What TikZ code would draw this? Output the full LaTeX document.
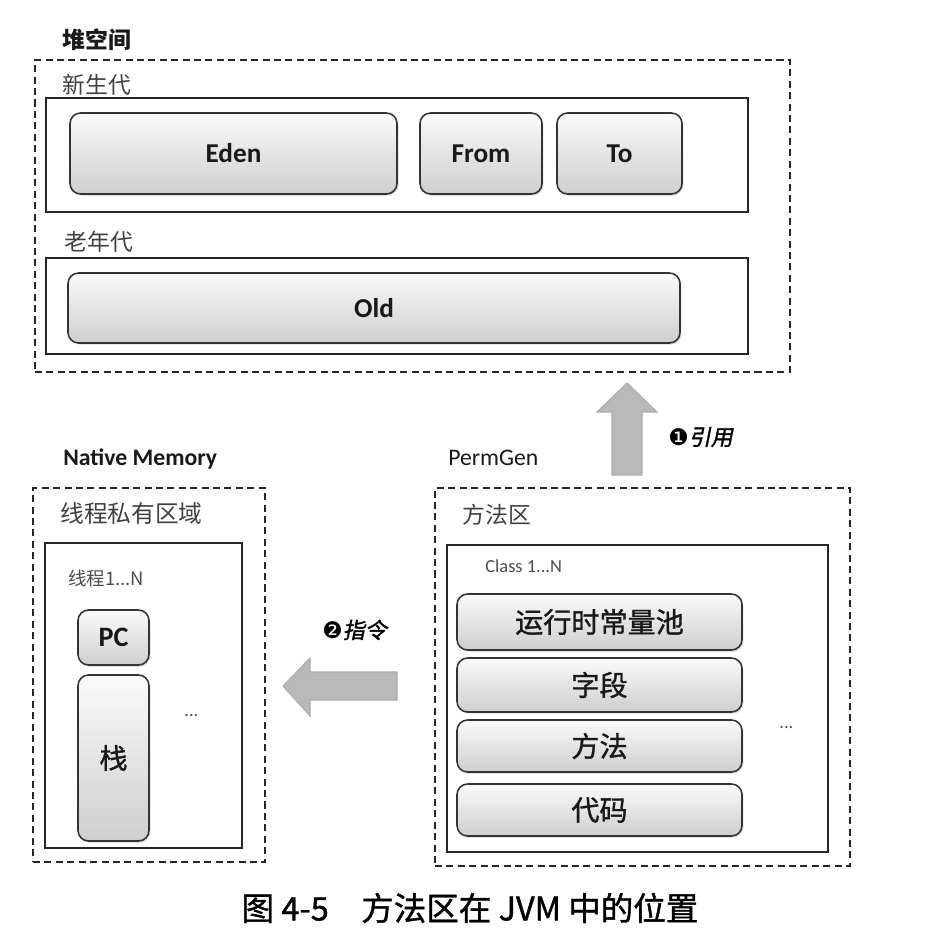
\documentclass[tikz,border=0pt]{standalone}
\usepackage{fontspec}
\setmainfont{Carlito}
\newfontfamily\cjk{Noto Sans CJK SC}
\newfontfamily\cjkmed[FakeBold=1.2]{Noto Sans CJK SC}
\newfontfamily\cjkit[FakeSlant=0.2,FakeBold=1.5]{Noto Sans CJK SC}
\newfontfamily\ding{DejaVu Sans}
\usetikzlibrary{shadows}

\begin{document}
\begin{tikzpicture}[x=0.02cm,y=-0.02cm,
	size/.style 2 args={minimum width=#1*0.02cm, minimum height=#2*0.02cm},
	zone/.style={draw=black!85, dash pattern=on 4pt off 2.5pt, line width=1pt, inner sep=0pt},
	part/.style={draw=black!85, line width=0.9pt, inner sep=0pt},
	cell/.style={draw=black!80, line width=0.9pt, rounded corners=6pt, top color=gray!4, bottom color=gray!38, drop shadow={opacity=0.3,shadow xshift=0.8pt,shadow yshift=-0.9pt}, inner sep=0pt, text=black!90, font=\bfseries\fontsize{15.5}{15.5}\selectfont},
	zhcell/.style={cell, font=\cjkmed\fontsize{16}{16}\selectfont},
	head/.style={anchor=west, inner sep=0pt, text=black!90, font=\fontsize{13.5}{13.5}\selectfont},
	zhhead/.style={anchor=west, inner sep=0pt, text=black!75, font=\cjk\fontsize{13}{13}\selectfont},
	small/.style={anchor=west, inner sep=0pt, text=black!70, font=\fontsize{10.5}{10.5}\selectfont},
	fat/.style={fill=gray!55, draw=gray!65, line width=0.6pt},
	note/.style={anchor=west, inner sep=0pt, font=\cjkit\fontsize{12.5}{12.5}\selectfont}]
	\useasboundingbox[fill=white] (0,0) rectangle (940,950);

	% heap
	\node[zhhead, font=\cjk\bfseries\fontsize{13}{13}\selectfont, text=black!90] (heapT) at (62,40) {堆空间};
	\node[zone, size={755}{312}] (heap) at (412.5,216) {};
	\node[zhhead] (youngT) at (62,85) {新生代};
	\node[part, size={702}{114}] (young) at (397,155) {};
	\node[cell, size={327}{81}] (eden) at (233.5,153.5) {Eden};
	\node[cell, size={122}{81}] (from) at (481,153.5) {From};
	\node[cell, size={125}{81}] (to) at (619.5,153.5) {To};
	\node[zhhead] (oldT) at (64,242) {老年代};
	\node[part, size={702}{96}] (oldbox) at (397,306) {};
	\node[cell, size={612}{70}] (old) at (374,308) {Old};

	% native memory
	\node[head, font=\bfseries\fontsize{13.5}{13.5}\selectfont] (nativeT) at (63,459) {Native Memory};
	\node[zone, size={232}{374}] (native) at (149,675) {};
	\node[zhhead, font=\cjk\fontsize{13.5}{13.5}\selectfont] (privT) at (60,513) {线程私有区域};
	\node[part, size={197}{305}] (thread) at (143.5,695.5) {};
	\node[small, font=\cjk\fontsize{10.5}{10.5}\selectfont] (threadT) at (68,578) {线程1...N};
	\node[cell, size={71}{55}, font=\bfseries\fontsize{16}{16}\selectfont] (pc) at (113.5,637.5) {PC};
	\node[zhcell, size={71}{166}] (stack) at (113.5,758) {栈};
	\node[small] (dotsL) at (184,716) {...};

	% permgen
	\node[head] (permT) at (448,458) {PermGen};
	\node[zone, size={415}{378}] (perm) at (642.5,677) {};
	\node[zhhead] (methT) at (462,515) {方法区};
	\node[part, size={381}{307}] (class) at (637.5,698.5) {};
	\node[small] (classT) at (485,566) {Class 1...N};
	\node[zhcell, size={285}{56}] (pool) at (599.5,622) {运行时常量池};
	\node[zhcell, size={285}{54}] (field) at (599.5,685) {字段};
	\node[zhcell, size={285}{52}] (method) at (599.5,746) {方法};
	\node[zhcell, size={285}{52}] (code) at (599.5,810) {代码};
	\node[small] (dotsR) at (779,728) {...};

	% arrows
	\coordinate (upA) at (627,475);
	\coordinate (leftA) at (397,686);
	\fill[fat] (upA) ++(-15,0) -- ++(0,-63) -- ++(-15,0) -- (627,383) -- (657,412) -- ++(-15,0) -- ++(0,63) -- cycle;
	\fill[fat] (leftA) ++(0,-14) -- ++(-87,0) -- ++(0,-14) -- (283,686) -- (310,716) -- ++(0,-16) -- ++(87,0) -- cycle;
	\node[note] (refT) at (668,437) {{\ding\fontsize{13}{13}\selectfont ❶}引用};
	\node[note] (insT) at (322,630) {{\ding\fontsize{13}{13}\selectfont ❷}指令};

	\node[inner sep=0pt, font=\cjkmed\fontsize{18.5}{18.5}\selectfont] (caption) at (470,908) {图 4-5\quad 方法区在 JVM 中的位置};
\end{tikzpicture}
\end{document}
